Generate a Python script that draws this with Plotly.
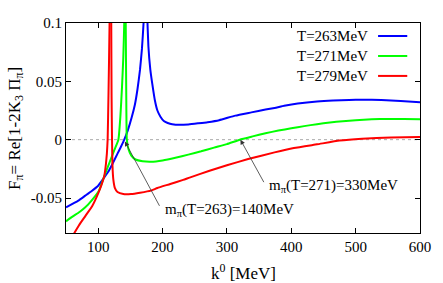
import plotly.graph_objects as go

# T = 263 MeV (blue), two branches around the pole
k263_lo = [50, 60, 70, 80, 90, 100, 108, 115, 122, 130, 135, 140.5, 146, 152, 157, 161, 165, 168, 170.5, 172]
f263_lo = [-0.058, -0.055, -0.052, -0.048, -0.044, -0.0395, -0.0335, -0.028, -0.021, -0.012, -0.0065, 0.0,
           0.008, 0.019, 0.030, 0.043, 0.060, 0.078, 0.1, 0.13]
k263_hi = [174.5, 176, 178, 181, 184, 188, 192, 197, 202, 208, 215, 227, 240, 255, 270, 288, 313, 338, 360, 374,
           389, 410, 440, 465, 490, 510, 540, 570, 600]
f263_hi = [0.16, 0.11, 0.08, 0.06, 0.048, 0.034, 0.025, 0.0195, 0.016, 0.0143, 0.0132, 0.0127, 0.0131, 0.014,
           0.0150, 0.0167, 0.0206, 0.0234, 0.0258, 0.0272, 0.029, 0.031, 0.0328, 0.0336, 0.034, 0.0342, 0.034,
           0.0332, 0.032]

# T = 271 MeV (green)
k271_lo = [50, 60, 71, 80, 90, 101, 109, 118, 125, 131.4, 134.5, 137, 139, 140.5, 141.2]
f271_lo = [-0.070, -0.066, -0.062, -0.058, -0.052, -0.044, -0.032, -0.019, -0.009, 0.0, 0.02, 0.045, 0.07, 0.1, 0.14]
k271_hi = [142.2, 142.8, 143.6, 144.5, 147, 151.5, 158, 169, 182, 200, 220, 240, 260, 280, 300, 320, 340, 360,
           380, 400, 420, 440, 460, 480, 500, 525, 550, 575, 600]
f271_hi = [0.16, 0.1, 0.04, 0.0, -0.008, -0.0137, -0.017, -0.0185, -0.0189, -0.0178, -0.0155, -0.0128, -0.010,
           -0.0068, -0.0038, 0.0, 0.0028, 0.0055, 0.0078, 0.0097, 0.0116, 0.0133, 0.0147, 0.0158, 0.0167,
           0.0175, 0.0178, 0.0177, 0.0174]

# T = 279 MeV (red)
k279_lo = [55, 63, 70, 80, 91, 100, 105, 109.5, 112, 113.5, 114.7, 116, 117.7, 118.5]
f279_lo = [-0.088, -0.080, -0.0735, -0.0655, -0.0566, -0.046, -0.039, -0.031, -0.021, -0.012, 0.0, 0.038, 0.1, 0.2]
k279_hi = [119.6, 120.3, 120.8, 121.5, 122.2, 123.5, 126, 130, 139, 151, 165, 182, 192, 212, 232, 242, 273, 300,
           333, 374, 404, 440, 475, 510, 555, 600]
f279_hi = [0.2, 0.1, 0.038, 0.0, -0.022, -0.034, -0.0415, -0.0448, -0.0466, -0.0466, -0.0455, -0.0437, -0.0414,
           -0.038, -0.0345, -0.0325, -0.0266, -0.022, -0.0166, -0.0109, -0.0072, -0.004, -0.0008, 0.0008,
           0.0019, 0.0022]

series = [
    ("T=263MeV", "#0000ff", k263_lo, f263_lo, k263_hi, f263_hi),
    ("T=271MeV", "#00ff00", k271_lo, f271_lo, k271_hi, f271_hi),
    ("T=279MeV", "#ff0000", k279_lo, f279_lo, k279_hi, f279_hi),
]

x_ticks = [100, 200, 300, 400, 500, 600]
y_ticks = [-0.05, 0, 0.05, 0.1]
y_tick_text = ["-0.05", "0", "0.05", "0.1"]

# annotation arrows: (tip k, tip F, tail k, tail F, label)
arrows = [
    (141.5, -0.0015, 196.5, -0.058, "m<sub>π</sub>(T=263)=140MeV"),
    (321, 0.0, 358.6, -0.0377, "m<sub>π</sub>(T=271)=330MeV"),
]

FONT = "Times New Roman, Liberation Serif, DejaVu Serif, serif"
fig = go.Figure()
for name, col, xl, yl, xh, yh in series:
    for xs, ys in ((xl, yl), (xh, yh)):
        fig.add_trace(go.Scatter(x=xs, y=ys, mode="lines",
                                 line=dict(color=col, width=2, shape="spline", smoothing=0.4),
                                 showlegend=False, hoverinfo="skip"))

# zero line
fig.add_shape(type="line", xref="paper", x0=0, x1=1, yref="y", y0=0, y1=0,
              line=dict(color="#aaaaaa", width=1, dash="dot"), layer="below")

# custom legend: text then line sample
leg_y = [0.938, 0.843, 0.748]
for (name, col, *_), yy in zip(series, leg_y):
    fig.add_annotation(xref="paper", yref="paper", x=0.8595, y=yy, text=name, showarrow=False,
                       xanchor="right", yanchor="middle", font=dict(family=FONT, size=15, color="black"))
    fig.add_shape(type="line", xref="paper", yref="paper", x0=0.8815, x1=0.964, y0=yy, y1=yy,
                  line=dict(color=col, width=2))

for tx, ty, axx, ayy, lab in arrows:
    fig.add_annotation(x=tx, y=ty, ax=axx, ay=ayy, xref="x", yref="y", axref="x", ayref="y", text="",
                       showarrow=True, arrowhead=2, arrowsize=1.2, arrowwidth=0.8, arrowcolor="#333333")
    fig.add_annotation(x=axx + 4, y=ayy - 0.002, xref="x", yref="y", text=lab, showarrow=False,
                       xanchor="left", yanchor="middle", font=dict(family=FONT, size=15, color="black"))

# axis titles
fig.add_annotation(xref="paper", yref="paper", x=0.501, y=-0.186, text="k<sup>0</sup> [MeV]", showarrow=False,
                   xanchor="center", yanchor="middle", font=dict(family=FONT, size=17, color="black"))
fig.add_annotation(xref="paper", yref="paper", x=-0.143, y=0.4976, textangle=-90,
                   text="F<sub>π</sub>= Re[1-2K<sub>3</sub> Π<sub>π</sub>]", showarrow=False,
                   xanchor="center", yanchor="middle", font=dict(family=FONT, size=17, color="black"))

axis_common = dict(showline=True, linecolor="black", linewidth=1, mirror="ticks", ticks="inside", ticklen=5,
                   tickcolor="black", showgrid=False, zeroline=False,
                   tickfont=dict(family=FONT, size=15, color="black"))
fig.update_xaxes(range=[50, 600], tickvals=x_ticks, **axis_common)
fig.update_yaxes(range=[-0.08, 0.1], tickvals=y_ticks, ticktext=y_tick_text, **axis_common)
fig.update_layout(width=443, height=283, margin=dict(l=66, r=14, t=23, b=50),
                  paper_bgcolor="white", plot_bgcolor="white", showlegend=False,
                  font=dict(family=FONT, size=15, color="black"))
fig.write_html("out.html", config={"displayModeBar": False},
               post_script="document.body.style.margin='0';document.body.style.padding='0';")
